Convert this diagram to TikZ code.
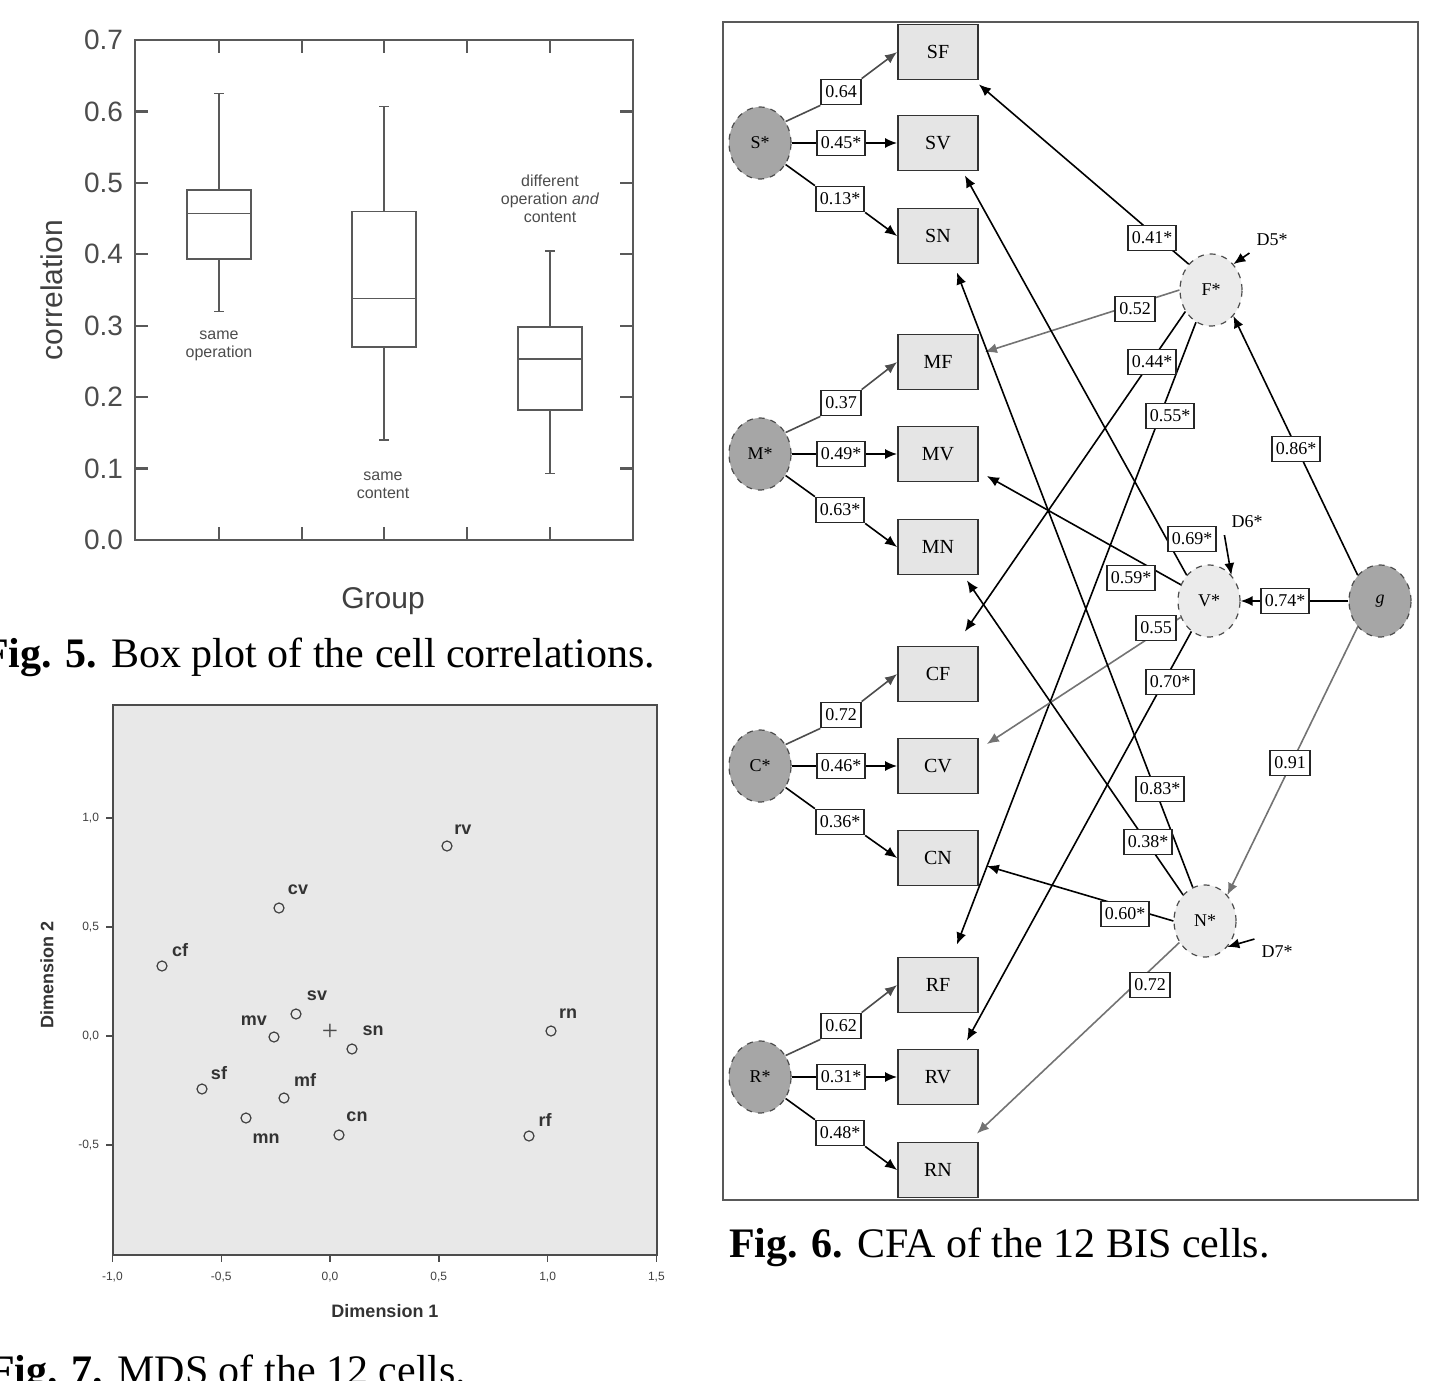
\documentclass[tikz,border=0pt]{standalone}
\usepackage{fontspec}
\setmainfont{Liberation Serif}
\setsansfont{Liberation Sans}
\usetikzlibrary{arrows.meta,calc,shapes.geometric}
\tikzset{
 ax/.style={draw=black!65,line width=1.2pt},
 bx/.style={draw=black!65,line width=0.9pt},
 obs/.style={draw=black!80,fill=black!10,line width=0.9pt,minimum width=40pt,minimum height=27.5pt,inner sep=0pt,font=\fontsize{10}{11}\selectfont},
 lat/.style={ellipse,draw=black!70,dashed,fill=black!35,line width=0.6pt,minimum width=31pt,minimum height=36pt,inner sep=0pt,font=\fontsize{9}{10}\selectfont},
 lat2/.style={lat,fill=black!8},
 lab/.style={draw=black!85,fill=white,line width=0.9pt,minimum height=12.5pt,inner sep=2pt,font=\fontsize{9}{10}\selectfont},
 ed/.style={line width=0.8pt,-{Latex[length=6pt,width=5pt]}},
 edg/.style={ed,draw=black!55},
 pt/.style={circle,draw=black!75,line width=0.6pt,minimum size=5pt,inner sep=0pt},
 pl/.style={font=\sffamily\bfseries\fontsize{9}{10}\selectfont,text=black!80},
}
\begin{document}
\begin{tikzpicture}[x=0.5pt,y=-0.5pt]
\useasboundingbox (0,0) rectangle (1441,1381);
% ---------- Fig 5 box plot ----------
\draw[ax] (135,40) rectangle (633,540);
\foreach \v/\t in {0/0.0,0.1/0.1,0.2/0.2,0.3/0.3,0.4/0.4,0.5/0.5,0.6/0.6,0.7/0.7}{
  \node[anchor=east,text=black!70,font=\sffamily\fontsize{14}{14}\selectfont] at (130,{540-714.3*\v}) {\t};
  \draw[ax] (135,{540-714.3*\v}) -- (148,{540-714.3*\v});
  \draw[ax] (620,{540-714.3*\v}) -- (633,{540-714.3*\v});
}
\foreach \x in {219,302,384,467,550}{
  \draw[ax] (\x,540) -- (\x,527);
  \draw[ax] (\x,40) -- (\x,53);
}
\foreach \x/\lo/\qa/\me/\qb/\hi in {219/0.32/0.393/0.457/0.49/0.625, 384/0.14/0.27/0.338/0.46/0.607, 550/0.093/0.182/0.253/0.298/0.405}{
  \draw[bx] (\x-32,{540-714.3*\qa}) rectangle (\x+32,{540-714.3*\qb});
  \draw[bx] (\x-32,{540-714.3*\me}) -- (\x+32,{540-714.3*\me});
  \draw[bx] (\x,{540-714.3*\qb}) -- (\x,{540-714.3*\hi});
  \draw[bx] (\x,{540-714.3*\qa}) -- (\x,{540-714.3*\lo});
  \draw[bx] (\x-5,{540-714.3*\hi}) -- (\x+5,{540-714.3*\hi});
  \draw[bx] (\x-5,{540-714.3*\lo}) -- (\x+5,{540-714.3*\lo});
}
\node[align=center,text=black!70,font=\sffamily\fontsize{8}{9}\selectfont] (g1) at (219,346) {same\\operation};
\node[align=center,text=black!70,font=\sffamily\fontsize{8}{9}\selectfont] (g2) at (383,485) {same\\content};
\node[align=center,text=black!70,font=\sffamily\fontsize{8}{9}\selectfont] (g3) at (550,199) {different\\operation \textit{and}\\content};
\node[rotate=90,text=black!75,font=\sffamily\fontsize{15}{15}\selectfont] (ylab) at (52,290) {correlation};
\node[text=black!75,font=\sffamily\fontsize{15}{15}\selectfont] (xlab) at (383,601) {Group};
\node[anchor=east,font=\fontsize{21}{22}\selectfont] (cap5) at (662,657) {\textbf{Fig. 5.} Box plot of the cell correlations.};
% ---------- Fig 7 MDS ----------
\draw[fill=black!9,draw=black!70,line width=1pt] (113,705) rectangle (657,1255);
\foreach \v/\t in {-1/-1{,}0,-0.5/-0{,}5,0/0{,}0,0.5/0{,}5,1/1{,}0,1.5/1{,}5}{
  \draw[black!70,line width=0.7pt] ({330+217.6*\v},1255) -- ({330+217.6*\v},1262);
  \node[text=black!75,font=\sffamily\fontsize{6}{6}\selectfont] at ({330+217.6*\v},1277) {\t};
}
\foreach \v/\t in {-0.5/-0{,}5,0/0{,}0,0.5/0{,}5,1/1{,}0}{
  \draw[black!70,line width=0.7pt] (106,{1036-218*\v}) -- (113,{1036-218*\v});
  \node[anchor=east,text=black!75,font=\sffamily\fontsize{6}{6}\selectfont] at (106,{1036-218*\v}) {\t};
}
\node[pl] (d1) at (385,1311) {Dimension 1};
\node[pl,rotate=90] (d2) at (47,975) {Dimension 2};
\node[font=\Large,text=black!70] (plus) at (330,1032) {+};
\foreach \nn/\x/\y/\lx/\ly in {rv/447/846/463/830, cv/279/908/298/890, cf/162/966/180/950, sv/296/1014/317/996, sn/352/1049/373/1031, rn/551/1031/568/1014, sf/202/1089/219/1073, mf/284/1098/305/1080, cn/339/1135/357/1117, rf/529/1136/545/1120}{
  \node[pt] (p\nn) at (\x,\y) {};
  \node[pl] (l\nn) at (\lx,\ly) {\nn};
}
\node[pt] (pmv) at (274,1037) {};
\node[pl] (lmv) at (254,1021) {mv};
\node[pt] (pmn) at (246,1118) {};
\node[pl] (lmn) at (266,1139) {mn};
\node[font=\fontsize{21}{22}\selectfont,anchor=west] (cap7) at (-18,1374) {\textbf{Fig. 7.} MDS of the 12 cells.};
% ---------- Fig 6 CFA ----------
\draw[black!65,line width=1.2pt] (723,22) rectangle (1418,1200);
\foreach \nn/\y in {SF/52,SV/143,SN/236,MF/362,MV/454,MN/547,CF/674,CV/766,CN/858,RF/985,RV/1077,RN/1170}{
  \node[obs] (\nn) at (938,\y) {\nn};
}
\foreach \nn/\y/\la/\lb/\lc in {S/143/0.64/0.45*/0.13*, M/454/0.37/0.49*/0.63*, C/766/0.72/0.46*/0.36*, R/1077/0.62/0.31*/0.48*}{
  \node[lat] (\nn) at (760,\y) {\nn*};
  \node[lab] (\nn-a) at (841,\y-51) {\la};
  \node[lab] (\nn-b) at (841,\y) {\lb};
  \node[lab] (\nn-c) at (840,\y+56) {\lc};
  \draw[line width=0.8pt,black!70] (\nn.40) -- (\nn-a.south west);
  \draw[ed,black!70] (\nn-a.north east) -- (\nn F.west);
  \draw[line width=0.8pt] (\nn.east) -- (\nn-b.west);
  \draw[ed] (\nn-b.east) -- (\nn V.west);
  \draw[line width=0.8pt] (\nn.-40) -- (\nn-c.north west);
  \draw[ed] (\nn-c.south east) -- (\nn N.west);
}
\node[lat2] (Fs) at (1211,290) {F*};
\node[lat2] (Vs) at (1209,601) {V*};
\node[lat2] (Ns) at (1205,921) {N*};
\node[lat] (gs) at (1380,601) {\emph{g}};
\node[font=\fontsize{9}{10}\selectfont] (D5) at (1272,240) {D5*};
\node[font=\fontsize{9}{10}\selectfont] (D6) at (1247,522) {D6*};
\node[font=\fontsize{9}{10}\selectfont] (D7) at (1277,952) {D7*};
\draw[ed] (D5.south west) -- (Fs.north east);
\draw[ed] (D6.south west) -- (Vs.north east);
\draw[ed] (D7.north west) -- (Ns.south east);
\draw[ed] (gs.north west) -- (Fs.south east);
\draw[ed] (gs.west) -- (Vs.east);
\draw[edg] (gs.south west) -- (Ns.north east);
\draw[ed] (Fs.north west) -- ($(SF.south east)+(0,4)$);
\draw[edg] (Fs.west) -- ($(MF.east)+(6,-10)$);
\draw[ed] (Fs.-140) -- ($(CF.north east)+(-14,-14)$);
\draw[ed] (Fs.-115) -- ($(RF.north east)+(-22,-12)$);
\draw[ed] (Vs.north west) -- ($(SV.south east)+(-14,4)$);
\draw[ed] (Vs.150) -- ($(MV.east)+(8,22)$);
\draw[edg] (Vs.-150) -- ($(CV.east)+(8,-22)$);
\draw[ed] (Vs.-120) -- ($(RV.north east)+(-12,-8)$);
\draw[ed] (Ns.110) -- ($(SN.south east)+(-22,8)$);
\draw[ed] (Ns.130) -- ($(MN.south east)+(-12,5)$);
\draw[ed] (Ns.west) -- ($(CN.east)+(8,8)$);
\draw[edg] (Ns.-140) -- ($(RN.north east)+(-2,-8)$);
\foreach \t/\x/\y in {0.41*/1152/238, 0.52/1135/309, 0.44*/1152/362, 0.55*/1170/416, 0.86*/1296/449, 0.69*/1192/539, 0.59*/1131/578, 0.74*/1285/601, 0.55/1156/628, 0.70*/1170/682, 0.91/1290/763, 0.83*/1160/789, 0.38*/1148/842, 0.60*/1125/914, 0.72/1150/985}{
  \node[lab] at (\x,\y) {\t};
}
\node[font=\fontsize{21}{22}\selectfont,anchor=west] (cap6) at (722,1247) {\textbf{Fig. 6.} CFA of the 12 BIS cells.};
\end{tikzpicture}
\end{document}
